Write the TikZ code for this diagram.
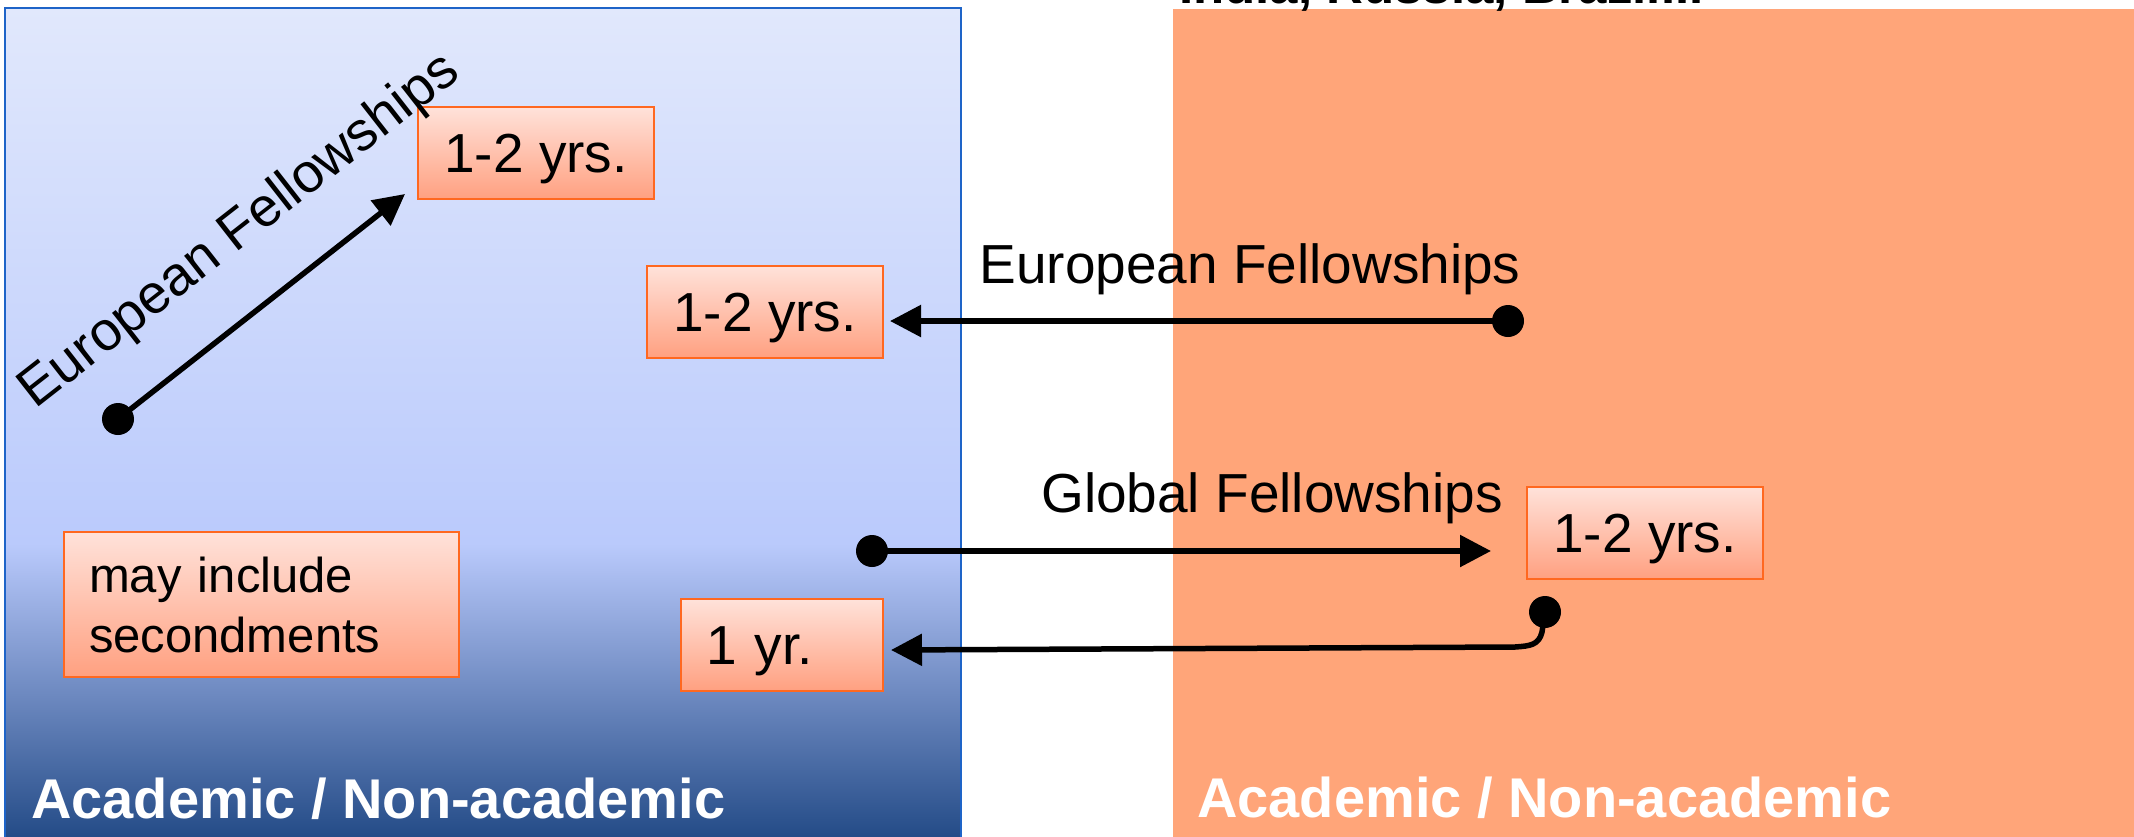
\documentclass[tikz,border=0pt]{standalone}
\usepackage{fontspec}
\setmainfont{Liberation Sans}
\usetikzlibrary{arrows.meta}
\definecolor{blueTop}{RGB}{225,232,252}
\definecolor{blueMid}{RGB}{186,202,252}
\definecolor{blueBot}{RGB}{32,72,132}
\definecolor{blueEdge}{RGB}{30,100,200}
\definecolor{orPanel}{RGB}{255,165,121}
\definecolor{orEdge}{RGB}{255,104,32}
\definecolor{boxTop}{RGB}{255,226,218}
\definecolor{boxBot}{RGB}{255,160,128}
\pgfdeclareverticalshading{bluepanel}{100bp}{color(0bp)=(blueBot); color(25bp)=(blueBot); color(43bp)=(blueMid); color(75bp)=(blueTop); color(100bp)=(blueTop)}
\tikzset{
  panelL/.style={draw=blueEdge, line width=2pt, shading=bluepanel},
  yrbox/.style={draw=orEdge, line width=2.5pt, top color=boxTop, bottom color=boxBot,
    font=\fontsize{55}{60}\selectfont, inner sep=0pt},
  onel/.style={text height=39pt, text depth=0pt},
  lbl/.style={font=\fontsize{55}{66}\selectfont, inner sep=0pt, anchor=base},
  panelLbl/.style={font=\bfseries\fontsize{56}{67}\selectfont, text=white, inner sep=0pt, anchor=base west},
  dot/.style={circle, fill=black, minimum size=32pt, inner sep=0pt},
  arr/.style={line width=5.5pt, -{Triangle[length=31pt,width=31pt]}},
}
\begin{document}
\begin{tikzpicture}[x=1pt,y=-1pt]
\useasboundingbox (0,0) rectangle (2134,836);
% panels
\path[panelL] (5,8) rectangle (961,845);
\fill[orPanel] (1173,9) rectangle (2140,845);
\node[font=\bfseries\fontsize{51}{60}\selectfont, inner sep=0pt, anchor=base west] (top) at (1179,3) {India, Russia, Brazil...};
% boxes
\node[yrbox, onel, minimum width=236pt, minimum height=92pt] (bA) at (536,153) {1-2 yrs.};
\node[yrbox, onel, minimum width=236pt, minimum height=92pt] (bB) at (765,312) {1-2 yrs.};
\node[yrbox, font=\fontsize{49}{60}\selectfont, text width=345pt, inner xsep=25pt, align=left, minimum height=145pt] (bC) at (261.5,604.5) {may include\\secondments};
\node[yrbox, onel, text width=152pt, inner xsep=25pt, align=left, minimum height=92pt] (bD) at (782,645) {1 yr.};
\node[yrbox, onel, minimum width=236pt, minimum height=92pt] (bE) at (1645,533) {1-2 yrs.};
% labels
\node[lbl, rotate=38] (lEF1) at (249,243) {European Fellowships};
\node[lbl] (lEF2) at (1250,283) {European Fellowships};
\node[lbl] (lGF) at (1272,512) {Global Fellowships};
\node[panelLbl] (pl1) at (31,818) {Academic / Non-academic};
\node[panelLbl] (pl2) at (1197,817) {Academic / Non-academic};
% connectors
\node[dot] (d1) at (118,419) {};
\coordinate (t1) at (405,194);
\draw[arr] (d1.center) -- (t1);
\node[dot] (d2) at (1508,321) {};
\coordinate (t2) at (890,321);
\draw[arr] (d2.center) -- (t2);
\node[dot] (d3) at (872,551) {};
\coordinate (t3) at (1491,551);
\draw[arr] (d3.center) -- (t3);
\node[dot] (d4) at (1545,612) {};
\coordinate (t4) at (891,650);
\draw[arr] (d4.center) -- (1542,632) .. controls (1539,645) and (1530,646) .. (1515,647) -- (t4);
\end{tikzpicture}
\end{document}
